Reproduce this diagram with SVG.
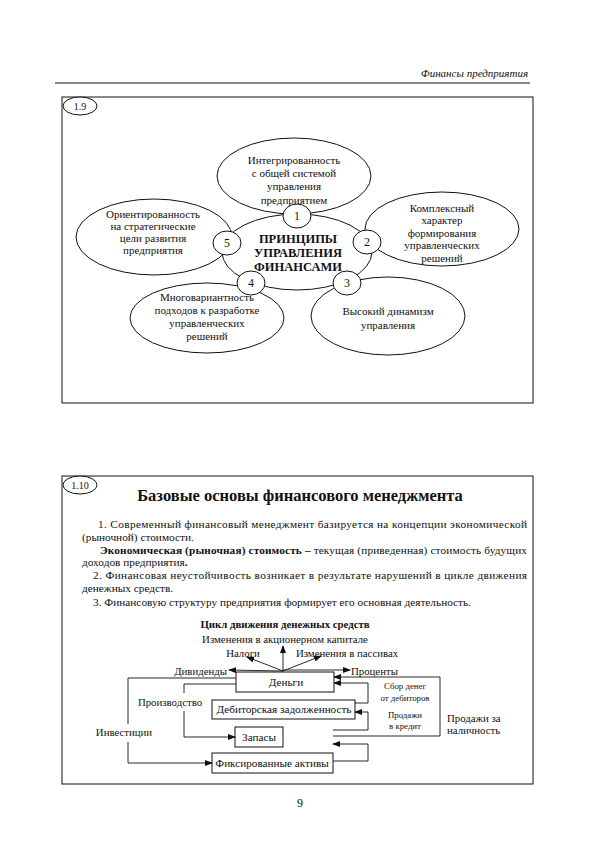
<svg xmlns="http://www.w3.org/2000/svg" width="600" height="855" viewBox="0 0 600 855" font-family="'Liberation Serif', 'DejaVu Serif', 'Times New Roman', serif">
<style>
text{font-family:'Liberation Serif','DejaVu Serif','Times New Roman',serif;fill:#111}
.s{font-size:11px;text-anchor:middle}
.c{font-size:12.5px;font-weight:bold;text-anchor:middle}
.p{font-size:11.3px}
.l{font-size:10.8px}
.m{font-size:10.8px;text-anchor:middle}
.bx{font-size:11.2px;text-anchor:middle}
.sm{font-size:8.8px;text-anchor:middle}
.e{fill:none;stroke:#111;stroke-width:1}
.n{fill:#fff;stroke:#111;stroke-width:1}
.ln{fill:none;stroke:#111;stroke-width:0.9}
.b{fill:#fff;stroke:#111;stroke-width:1}
</style>
<defs>
<marker id="ah" markerWidth="8" markerHeight="6" refX="7" refY="3" orient="auto" markerUnits="userSpaceOnUse">
<path d="M0,0 L8,3 L0,6 Z" fill="#111"/>
</marker>
</defs>
<rect width="600" height="855" fill="#fff"/>

<g id="header">
<text x="528" y="77" style="font-size:11px;font-style:italic;text-anchor:end">Финансы предприятия</text>
<line x1="55" y1="83" x2="530" y2="83" stroke="#111" stroke-width="1.2"/>
</g>

<g id="frame19">
<rect x="62" y="97" width="471" height="306" class="e"/>
<ellipse cx="80" cy="106" rx="17" ry="9" class="n"/>
<text x="80" y="110" class="s" style="font-size:10px">1.9</text>
</g>

<g id="p-top">
<ellipse cx="294" cy="176" rx="77" ry="38" class="e"/>
<text class="s"><tspan x="294" y="164">Интегрированность</tspan><tspan x="294" y="177">с общей системой</tspan><tspan x="294" y="190">управления</tspan><tspan x="294" y="204">предприятием</tspan></text>
</g>
<g id="p-right">
<ellipse cx="442" cy="229" rx="77" ry="37" class="e"/>
<text class="s"><tspan x="442" y="212">Комплексный</tspan><tspan x="442" y="224">характер</tspan><tspan x="442" y="237">формирования</tspan><tspan x="442" y="249">управленческих</tspan><tspan x="442" y="262">решений</tspan></text>
</g>
<g id="p-left">
<ellipse cx="154" cy="237" rx="78" ry="38" class="e"/>
<text class="s"><tspan x="153" y="218">Ориентированность</tspan><tspan x="153" y="230">на стратегические</tspan><tspan x="153" y="242">цели развития</tspan><tspan x="153" y="254">предприятия</tspan></text>
</g>
<g id="p-botleft">
<ellipse cx="207" cy="318" rx="77" ry="35" class="e"/>
<text class="s"><tspan x="207" y="301">Многовариантность</tspan><tspan x="207" y="314">подходов к разработке</tspan><tspan x="207" y="327">управленческих</tspan><tspan x="207" y="340">решений</tspan></text>
</g>
<g id="p-botright">
<ellipse cx="388" cy="316" rx="77" ry="39" class="e"/>
<text class="s"><tspan x="388" y="315">Высокий динамизм</tspan><tspan x="388" y="329">управления</tspan></text>
</g>
<g id="center">
<ellipse cx="297" cy="252" rx="75" ry="38" class="e"/>
<text class="c"><tspan x="298" y="243">ПРИНЦИПЫ</tspan><tspan x="298" y="257">УПРАВЛЕНИЯ</tspan><tspan x="298" y="271">ФИНАНСАМИ</tspan></text>
</g>
<g id="n1"><ellipse cx="297" cy="216" rx="14" ry="12" class="n"/><text x="297" y="220" class="s" style="font-size:12px">1</text></g>
<g id="n2"><ellipse cx="367" cy="242" rx="14" ry="12" class="n"/><text x="367" y="246" class="s" style="font-size:12px">2</text></g>
<g id="n3"><ellipse cx="347" cy="283" rx="14" ry="12" class="n"/><text x="347" y="287" class="s" style="font-size:12px">3</text></g>
<g id="n4"><ellipse cx="251" cy="283" rx="14" ry="12" class="n"/><text x="251" y="287" class="s" style="font-size:12px">4</text></g>
<g id="n5"><ellipse cx="227" cy="243" rx="14" ry="12" class="n"/><text x="227" y="247" class="s" style="font-size:12px">5</text></g>

<g id="frame110">
<rect x="62" y="476" width="471" height="308" class="e"/>
<ellipse cx="80" cy="485" rx="17" ry="9" class="n"/>
<text x="80" y="489" class="s" style="font-size:10px">1.10</text>
<text x="300" y="501" style="font-size:16.5px;font-weight:bold;text-anchor:middle">Базовые основы финансового менеджмента</text>
<text x="98" y="528" class="p" textLength="429" lengthAdjust="spacing">1. Современный финансовый менеджмент базируется на концепции экономической</text>
<text x="82" y="541" class="p">(рыночной) стоимости.</text>
<text x="100" y="554" class="p" textLength="427" lengthAdjust="spacing"><tspan font-weight="bold">Экономическая (рыночная) стоимость –</tspan> текущая (приведенная) стоимость будущих</text>
<text x="82" y="566" class="p">доходов предприятия<tspan font-weight="bold">.</tspan></text>
<text x="93" y="579" class="p" textLength="434" lengthAdjust="spacing">2. Финансовая неустойчивость возникает в результате нарушений в цикле движения</text>
<text x="82" y="592" class="p">денежных средств.</text>
<text x="93" y="606" class="p">3. Финансовую структуру предприятия формирует его основная деятельность.</text>
<text x="285" y="628" class="m" style="font-weight:bold">Цикл движения денежных средств</text>
</g>

<g id="b-money"><rect x="236" y="672" width="98" height="20" class="b"/><text x="286" y="686" class="bx">Деньги</text></g>
<g id="b-debt"><rect x="212" y="700" width="143" height="19" class="b"/><text x="284" y="713" class="bx">Дебиторская задолженность</text></g>
<g id="b-stock"><rect x="235" y="727" width="48" height="20" class="b"/><text x="259" y="741" class="bx">Запасы</text></g>
<g id="b-fixed"><rect x="212" y="753" width="121" height="20" class="b"/><text x="272" y="767" class="bx">Фиксированные активы</text></g>

<g id="labels">
<text x="285" y="643" class="m">Изменения в акционерном капитале</text>
<text x="243" y="657" class="m">Налоги</text>
<text x="347" y="657" class="m">Изменения в пассивах</text>
<text x="227" y="675" class="l" style="text-anchor:end">Дивиденды</text>
<text x="351" y="675" class="l">Проценты</text>
<text x="170" y="706" class="m">Производство</text>
<text x="124" y="736" class="m">Инвестиции</text>
<text x="405" y="689" class="sm">Сбор денег</text>
<text x="405" y="701" class="sm">от дебиторов</text>
<text x="405" y="718" class="sm">Продажи</text>
<text x="405" y="729" class="sm">в кредит</text>
<text x="447" y="722" class="l">Продажи за</text>
<text x="447" y="734" class="l">наличность</text>
</g>

<g id="connectors">
<line x1="283" y1="671" x2="283" y2="646" class="ln" marker-end="url(#ah)"/>
<line x1="283" y1="671" x2="247" y2="657" class="ln" marker-end="url(#ah)"/>
<line x1="283" y1="671" x2="321" y2="656" class="ln" marker-end="url(#ah)"/>
<line x1="283" y1="671" x2="229" y2="670" class="ln" marker-end="url(#ah)"/>
<line x1="283" y1="670" x2="350" y2="670" class="ln" marker-end="url(#ah)"/>
<polyline points="236,678 128,678 128,724" class="ln"/>
<polyline points="128,742 128,763 212,763" class="ln" marker-end="url(#ah)"/>
<polyline points="236,684 184,684 184,693" class="ln"/>
<polyline points="184,711 184,737 235,737" class="ln" marker-end="url(#ah)"/>
<polyline points="355,703 368,703 368,683 334,683" class="ln" marker-end="url(#ah)"/>
<polyline points="333,730 368,730 368,712 355,712" class="ln" marker-end="url(#ah)"/>
<polyline points="333,736 440,736 440,677 334,677" class="ln" marker-end="url(#ah)"/>
<polyline points="333,761 368,761 368,744 333,744" class="ln" marker-end="url(#ah)"/>
</g>

<text x="300" y="807" style="font-size:12px;text-anchor:middle">9</text>
</svg>
